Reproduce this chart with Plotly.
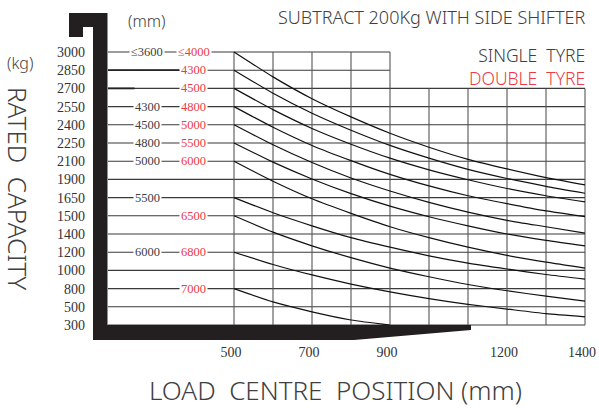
import numpy as np
import plotly.graph_objects as go

# ---------------- data ----------------
CAPACITY_TICKS = [300, 500, 800, 1000, 1200, 1400, 1500, 1650, 1900,
                  2100, 2250, 2400, 2550, 2700, 2850, 3000]
LOAD_CENTRES = [500, 600, 700, 800, 900, 1000, 1100, 1200, 1300, 1400]
X_TICKS = [500, 700, 900, 1200, 1400]

CURVE_3000 = [3000, 2795, 2615, 2465, 2330, 2215, 2115, 2015, 1920, 1825]
CURVE_2850 = [2850, 2660, 2495, 2355, 2230, 2125, 2010, 1910, 1805, 1710]
CURVE_2700 = [2700, 2525, 2370, 2240, 2125, 2005, 1895, 1775, 1675, 1615]
CURVE_2550 = [2550, 2380, 2230, 2105, 1955, 1810, 1675, 1600, 1540, 1495]
CURVE_2400 = [2400, 2235, 2085, 1915, 1740, 1610, 1530, 1475, 1440, 1405]
CURVE_2250 = [2250, 2090, 1905, 1705, 1580, 1495, 1445, 1400, 1330, 1270]
CURVE_2100 = [2100, 1875, 1640, 1520, 1440, 1360, 1255, 1165, 1090, 1025]
CURVE_1650 = [1650, 1525, 1445, 1360, 1255, 1160, 1080, 1015, 955, 905]
CURVE_1500 = [1500, 1410, 1270, 1140, 1025, 930, 845, 765, 675, 595]
CURVE_1200 = [1200, 1065, 950, 850, 745, 635, 540, 475, 425, 390]
CURVE_800 = [800, 580, 445, 355, 300]

CURVES = [CURVE_3000, CURVE_2850, CURVE_2700, CURVE_2550, CURVE_2400,
          CURVE_2250, CURVE_2100, CURVE_1650, CURVE_1500, CURVE_1200, CURVE_800]

SIDE_ROWS = [3000, 2850, 2700, 2550, 2400, 2250, 2100, 1650, 1500, 1200, 800]
SINGLE_TYRE_LIFT = ["≤3600", "", "", "4300", "4500", "4800", "5000", "5500", "", "6000", ""]
DOUBLE_TYRE_LIFT = ["≤4000", "4300", "4500", "4800", "5000", "5500", "6000", "", "6500", "6800", "7000"]

# ---------------- styling ----------------
W, H = 599, 408
L, R, T, B = 108, 590, 10, 342            # plot area in pixels
INK = "#231f20"
GRID = "#3a3a3a"
GREY_TXT = "#404040"
RED = "#ee3a45"
SERIF = "Liberation Serif, DejaVu Serif, serif"
SANS = "Noto Sans, Open Sans, sans-serif"

ROW_POS = list(range(len(CAPACITY_TICKS)))


def ypos(kg):
    return np.interp(kg, CAPACITY_TICKS, ROW_POS)


def px(x):
    return (x - L) / (R - L)


def py(y):
    return (B - y) / (B - T)


fig = go.Figure()

for c in CURVES:
    fig.add_trace(go.Scatter(
        x=LOAD_CENTRES[:len(c)], y=ypos(c), mode="lines",
        line=dict(color="#111111", width=1.2, shape="spline", smoothing=0.6),
        hoverinfo="skip", showlegend=False))

x_left = 500 - (234 - L) / 0.39
x_right = 1400 + (R - 585) / 0.39
y_bottom = -(B - 325) / 18.2
y_top = 15 + (52 - T) / 18.2

shapes = []
for i, v in enumerate(CAPACITY_TICKS):
    x_end = 900 if v > 2700 else 1400
    shapes.append(dict(type="line", xref="x", yref="y", x0=x_left, x1=x_end,
                       y0=i, y1=i, line=dict(color=GRID, width=1.1), layer="below"))
for xv in LOAD_CENTRES:
    y_end = 15 if xv <= 900 else 13
    shapes.append(dict(type="line", xref="x", yref="y", x0=xv, x1=xv,
                       y0=0, y1=y_end, line=dict(color="#555555", width=1.1), layer="below"))
for v, x_end in ((2850, 400), (2700, 245)):
    shapes.append(dict(type="line", xref="x", yref="y", x0=x_left, x1=x_end,
                       y0=ypos(v), y1=ypos(v), line=dict(color="#222222", width=1.8), layer="below"))

pts = [(69, 13), (107.5, 13), (107.5, 325), (471, 325), (471, 330), (354, 340),
       (93, 340), (93, 27), (83, 27), (83, 37), (69, 37)]
path = "M " + " L ".join(f"{px(a):.5f},{py(b):.5f}" for a, b in pts) + " Z"
shapes.append(dict(type="path", xref="paper", yref="paper", path=path,
                   fillcolor=INK, line=dict(width=0), layer="above"))

annotations = []
for row, s, d in zip(SIDE_ROWS, SINGLE_TYRE_LIFT, DOUBLE_TYRE_LIFT):
    yi = ypos(row)
    if s:
        annotations.append(dict(x=277, y=yi, xref="x", yref="y", text=s, showarrow=False,
                                font=dict(family=SERIF, size=12.5, color=GREY_TXT),
                                bgcolor="white", borderpad=1, xanchor="center", yanchor="middle"))
    if d:
        annotations.append(dict(x=397, y=yi, xref="x", yref="y", text=d, showarrow=False,
                                font=dict(family=SERIF, size=12.5, color=RED),
                                bgcolor="white", borderpad=1, xanchor="center", yanchor="middle"))


def ann(text, x, y, size, color=GREY_TXT, xanchor="center", yanchor="middle", angle=0, align="center"):
    annotations.append(dict(text=text, x=px(x), y=py(y), xref="paper", yref="paper",
                            showarrow=False, textangle=angle, xanchor=xanchor, yanchor=yanchor,
                            align=align,
                            font=dict(family=SANS, size=size, color=color, weight=300)))


ann("(mm)", 147, 21, 16)
ann("(kg)", 20, 63, 16)
ann("RATED  CAPACITY", 18, 188, 26, angle=90)
ann("LOAD  CENTRE  POSITION (mm)", 335, 390, 26)
ann("SUBTRACT 200Kg WITH SIDE SHIFTER", 587, 17, 18, xanchor="right")
ann(f"SINGLE  TYRE<br><span style='color:{RED}'>DOUBLE  TYRE</span>",
    587, 66, 17.5, xanchor="right", align="right")

fig.update_layout(
    width=W, height=H, autosize=False,
    margin=dict(l=L, r=W - R, t=T, b=H - B, pad=0, autoexpand=False),
    paper_bgcolor="white", plot_bgcolor="white",
    shapes=shapes, annotations=annotations,
    xaxis=dict(range=[x_left, x_right], showgrid=False, zeroline=False, showline=False,
               automargin=False,
               tickvals=X_TICKS, ticktext=[str(v) for v in X_TICKS], ticks="",
               ticklabelshift=-3,
               tickfont=dict(family=SERIF, size=14, color="#333333"), fixedrange=True),
    yaxis=dict(range=[y_bottom, y_top], showgrid=False, zeroline=False, showline=False,
               automargin=False,
               tickvals=ROW_POS, ticktext=[str(v) for v in CAPACITY_TICKS], ticks="",
               ticklabelstandoff=22,
               tickfont=dict(family=SERIF, size=14, color="#333333"), fixedrange=True),
    showlegend=False,
)

fig.write_html("out.html", config={"responsive": False, "displayModeBar": False},
               post_script="document.documentElement.style.margin='0';"
                           "document.body.style.margin='0';"
                           "document.body.style.overflow='hidden';")
